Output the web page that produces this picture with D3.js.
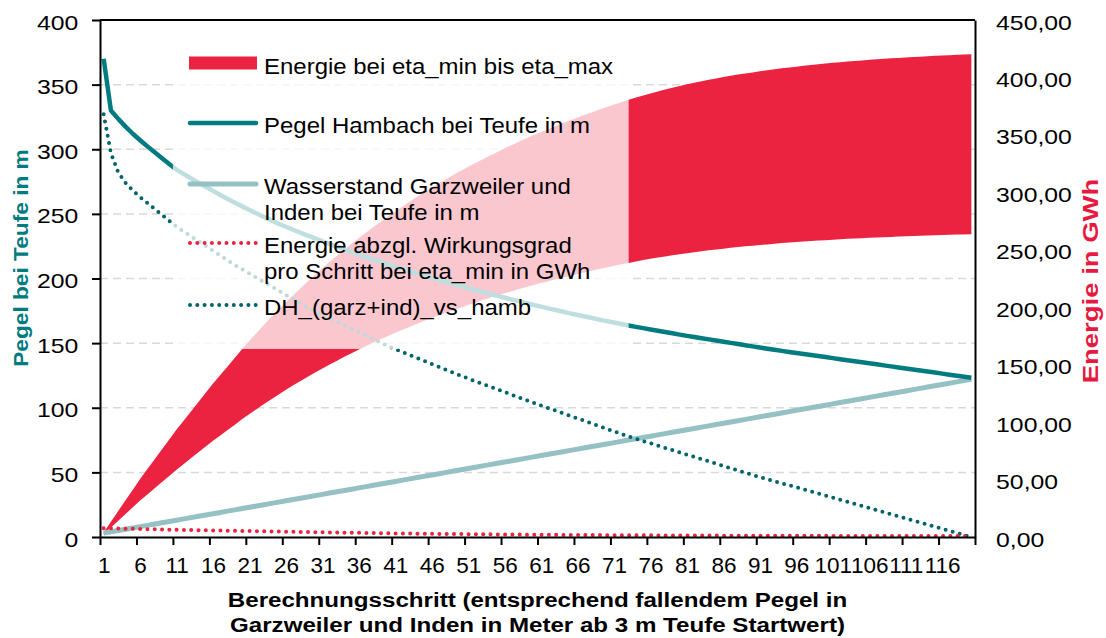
<!DOCTYPE html>
<html>
<head>
<meta charset="utf-8">
<script src="https://cdn.jsdelivr.net/npm/d3@7"></script>
<style>
  body { margin: 0; background: #fff; }
  svg { display: block; font-family: "Liberation Sans", Arial, sans-serif; }
</style>
</head>
<body>
<div id="chart"></div>
<script>
const steps = d3.range(1, 121);

const pegelHambach = [
  370, 330, 323.5, 317.5, 312, 307, 302.2, 297.6, 293, 288.5,
  284.2, 280.8, 277.5, 274.2, 271, 267.8, 264.6, 261.5, 258.6, 255.8,
  253, 250.3, 247.6, 245, 242.4, 240, 237.7, 235.4, 233.2, 231,
  228.8, 226.7, 224.6, 222.5, 220.5, 218.5, 216.6, 214.7, 212.8, 211,
  209.2, 207.4, 205.6, 203.9, 202.2, 200.5, 198.9, 197.3, 195.7, 194.1,
  192.5, 191, 189.5, 188, 186.5, 185.1, 183.7, 182.3, 180.9, 179.5,
  178.2, 176.9, 175.6, 174.3, 173, 171.8, 170.6, 169.4, 168.2, 167,
  165.9, 164.8, 163.7, 162.6, 161.6, 160.6, 159.6, 158.6, 157.6, 156.6,
  155.6, 154.7, 153.8, 152.9, 152, 151.1, 150.2, 149.3, 148.4, 147.5,
  146.6, 145.7, 144.8, 144, 143.2, 142.4, 141.6, 140.8, 140, 139.2,
  138.4, 137.6, 136.8, 136, 135.2, 134.4, 133.6, 132.8, 132, 131.2,
  130.4, 129.6, 128.8, 128, 127.2, 126.4, 125.6, 124.8, 124, 123.2
];

const wasserstand = [
  3, 4, 5, 6, 7, 8, 9, 10, 11, 12,
  13, 14, 15, 16, 17, 18, 19, 20, 21, 22,
  23, 24, 25, 26, 27, 28, 29, 30, 31, 32,
  33, 34, 35, 36, 37, 38, 39, 40, 41, 42,
  43, 44, 45, 46, 47, 48, 49, 50, 51, 52,
  53, 54, 55, 56, 57, 58, 59, 60, 61, 62,
  63, 64, 65, 66, 67, 68, 69, 70, 71, 72,
  73, 74, 75, 76, 77, 78, 79, 80, 81, 82,
  83, 84, 85, 86, 87, 88, 89, 90, 91, 92,
  93, 94, 95, 96, 97, 98, 99, 100, 101, 102,
  103, 104, 105, 106, 107, 108, 109, 110, 111, 112,
  113, 114, 115, 116, 117, 118, 119, 120, 121, 122
];

const dhGarzIndVsHamb = [
  327, 297, 282, 274, 268, 263, 258.4, 253.8, 249.2, 244.6,
  240, 236.3, 232.6, 228.9, 225.2, 221.5, 217.8, 214.1, 210.4, 207.1,
  203.8, 200.5, 197.2, 193.9, 190.6, 187.3, 184, 180.7, 177.4, 174.7,
  172, 169.3, 166.6, 163.9, 161.2, 158.5, 155.8, 153.1, 150.4, 147.7,
  145.4, 143.1, 140.8, 138.5, 136.2, 133.9, 131.6, 129.3, 127, 124.7,
  122.6, 120.5, 118.4, 116.3, 114.2, 112.1, 110, 107.9, 105.8, 103.7,
  101.7, 99.7, 97.7, 95.7, 93.7, 91.7, 89.7, 87.7, 85.7, 83.7,
  81.7, 79.7, 77.7, 76, 74.2, 72.5, 70.7, 69, 67.2, 65.5,
  63.7, 62, 60.2, 58.5, 56.7, 55, 53.2, 51.5, 49.7, 48,
  46.4, 44.8, 43.2, 41.6, 40, 38.4, 36.8, 35.2, 33.6, 32,
  30.4, 28.8, 27.2, 25.6, 24, 22.4, 20.8, 19.2, 17.6, 16,
  14.4, 12.8, 11.2, 9.6, 8, 6.4, 4.8, 3.2, 1.6, 0
];

// GWh, right axis
const energieEtaMax = [
  4, 13.3, 22.6, 31.9, 41.2, 50.5, 59.1, 67.7, 76.3, 84.9,
  93.5, 101.5, 109.5, 117.5, 125.5, 133.5, 141, 148.5, 156, 163.6,
  170.8, 177.8, 184.7, 191.4, 197.9, 204.3, 210.5, 216.6, 222.5, 228.3,
  233.9, 239.5, 244.8, 250.1, 255.2, 260.2, 265.1, 269.8, 274.5, 279,
  283.4, 287.7, 292, 296.1, 300.1, 304, 307.8, 311.5, 315.2, 318.7,
  322.2, 325.6, 328.9, 332.1, 335.2, 338.3, 341.3, 344.2, 347.1, 349.9,
  352.6, 355.2, 357.8, 360.3, 362.8, 365.2, 367.5, 369.8, 372.1, 374.2,
  376.4, 378.4, 380.5, 382.5, 384.3, 386.1, 387.8, 389.5, 391, 392.5,
  394, 395.4, 396.7, 397.9, 399.1, 400.3, 401.4, 402.5, 403.5, 404.4,
  405.4, 406.3, 407.1, 407.9, 408.7, 409.4, 410.1, 410.8, 411.5, 412.1,
  412.7, 413.3, 413.8, 414.3, 414.8, 415.3, 415.8, 416.2, 416.6, 417,
  417.4, 417.8, 418.1, 418.5, 418.8, 419.1, 419.4, 419.7, 419.9, 420.2
];

const energieEtaMin = [
  2.5, 8.3, 14.2, 20, 25.8, 31.7, 37.1, 42.4, 47.8, 53.2,
  58.6, 63.6, 68.7, 73.7, 78.7, 83.7, 88.4, 93.1, 97.8, 102.6,
  107.1, 111.5, 115.8, 120, 124.1, 128.1, 132, 135.8, 139.5, 143.1,
  146.7, 150.2, 153.5, 156.8, 160, 163.1, 166.2, 169.2, 172.1, 174.9,
  177.7, 180.4, 183.1, 185.7, 188.2, 190.6, 193, 195.3, 197.6, 199.8,
  202, 204.2, 206.2, 208.2, 210.2, 212.1, 214, 215.8, 217.6, 219.4,
  221.1, 222.7, 224.3, 225.9, 227.5, 229, 230.4, 231.9, 233.3, 234.6,
  236, 237.3, 238.6, 239.8, 241, 242.1, 243.2, 244.2, 245.2, 246.1,
  247, 247.9, 248.7, 249.5, 250.2, 251, 251.7, 252.4, 253, 253.6,
  254.2, 254.7, 255.3, 255.8, 256.3, 256.7, 257.1, 257.6, 258, 258.4,
  258.8, 259.1, 259.5, 259.8, 260.1, 260.4, 260.7, 261, 261.2, 261.5,
  261.7, 262, 262.2, 262.4, 262.6, 262.8, 263, 263.2, 263.3, 263.5
];

const energieProSchritt = [
  6.8, 6.7, 6.6, 6.4, 6.3, 6.1, 6, 5.9, 5.8, 5.7,
  5.6, 5.5, 5.4, 5.3, 5.2, 5.1, 5, 4.9, 4.8, 4.7,
  4.6, 4.5, 4.4, 4.3, 4.2, 4.1, 4, 3.9, 3.8, 3.7,
  3.6, 3.5, 3.4, 3.3, 3.3, 3.2, 3.1, 3, 3, 2.9,
  2.8, 2.8, 2.7, 2.6, 2.6, 2.5, 2.4, 2.4, 2.3, 2.3,
  2.2, 2.2, 2.1, 2.1, 2, 2, 1.9, 1.9, 1.8, 1.8,
  1.8, 1.7, 1.7, 1.6, 1.6, 1.6, 1.5, 1.5, 1.5, 1.4,
  1.4, 1.4, 1.3, 1.3, 1.3, 1.3, 1.2, 1.2, 1.2, 1.2,
  1.1, 1.1, 1.1, 1.1, 1.1, 1, 1, 1, 1, 1,
  1, 0.9, 0.9, 0.9, 0.9, 0.9, 0.9, 0.9, 0.9, 0.9,
  0.8, 0.8, 0.8, 0.8, 0.8, 0.8, 0.8, 0.8, 0.8, 0.8,
  0.8, 0.8, 0.8, 0.7, 0.7, 0.7, 0.7, 0.7, 0.7, 0.7
];

const xTickLabels = [1, 6, 11, 16, 21, 26, 31, 36, 41, 46, 51, 56, 61, 66, 71, 76, 81, 86, 91, 96, 101, 106, 111, 116];
const leftTicks = [0, 50, 100, 150, 200, 250, 300, 350, 400];
const rightTicks = [0, 50, 100, 150, 200, 250, 300, 350, 400, 450];
const gridValues = [50, 100, 150, 200, 250, 300, 350];

// faded (highlight) band: step range and upper left-axis value
const fadeSteps = [10.5, 73];
const fadeLevel = 145.5;

const legendLabels = [
  ["Energie bei eta_min bis eta_max"],
  ["Pegel Hambach bei Teufe in m"],
  ["Wasserstand Garzweiler und", "Inden bei Teufe in m"],
  ["Energie abzgl. Wirkungsgrad", "pro Schritt bei eta_min in GWh"],
  ["DH_(garz+ind)_vs_hamb"]
];

const xTitle = [
  "Berechnungsschritt (entsprechend fallendem Pegel in",
  "Garzweiler und Inden in Meter ab 3 m Teufe Startwert)"
];

const red = "#ec2340";
const teal = "#007b80";
const tealDark = "#00646b";
const lightTeal = "#95c0c4";

const width = 1106;
const height = 638;
const plotLeft = 100, plotRight = 975, plotTop = 20, plotBottom = 537;

const rows = steps.map((s, i) => ({
  s,
  h: pegelHambach[i],
  w: wasserstand[i],
  dh: dhGarzIndVsHamb[i],
  emax: energieEtaMax[i],
  emin: energieEtaMin[i],
  ep: energieProSchritt[i]
}));

const x = d3.scaleLinear().domain([0.5, 120.5]).range([plotLeft, plotRight]);
const yL = d3.scaleLinear().domain([0, 400]).range([plotBottom, plotTop]);
const yR = d3.scaleLinear().domain([0, 450]).range([plotBottom, plotTop]);

const svg = d3
  .select("#chart")
  .append("svg")
  .attr("width", width)
  .attr("height", height);

svg
  .append("g")
  .selectAll("line")
  .data(gridValues)
  .join("line")
  .attr("x1", plotLeft)
  .attr("x2", plotRight)
  .attr("y1", (d) => yL(d))
  .attr("y2", (d) => yL(d))
  .attr("stroke", "#d9d9d9")
  .attr("stroke-width", 1.5)
  .attr("stroke-dasharray", "8,5");

const area = d3
  .area()
  .x((d) => x(d.s))
  .y0((d) => yR(d.emin))
  .y1((d) => yR(d.emax));

svg.append("path").datum(rows).attr("d", area).attr("fill", red);

const lineOf = (key, scale) =>
  d3.line().x((d) => x(d.s)).y((d) => scale(d[key]));

svg
  .append("path")
  .datum(rows)
  .attr("d", lineOf("w", yL))
  .attr("fill", "none")
  .attr("stroke", lightTeal)
  .attr("stroke-width", 5);

svg
  .append("path")
  .datum(rows)
  .attr("d", lineOf("h", yL))
  .attr("fill", "none")
  .attr("stroke", teal)
  .attr("stroke-width", 4.5)
  .attr("stroke-linejoin", "round");

svg
  .append("path")
  .datum(rows)
  .attr("d", lineOf("dh", yL))
  .attr("fill", "none")
  .attr("stroke", tealDark)
  .attr("stroke-width", 4)
  .attr("stroke-linecap", "round")
  .attr("stroke-dasharray", "0,7.3");

svg
  .append("path")
  .datum(rows)
  .attr("d", lineOf("ep", yL))
  .attr("fill", "none")
  .attr("stroke", red)
  .attr("stroke-width", 4)
  .attr("stroke-linecap", "round")
  .attr("stroke-dasharray", "0,7.3");

// white veil over the middle section
svg
  .append("rect")
  .attr("x", x(fadeSteps[0]))
  .attr("y", yL(400))
  .attr("width", x(fadeSteps[1]) - x(fadeSteps[0]))
  .attr("height", yL(fadeLevel) - yL(400))
  .attr("fill", "#fff")
  .attr("fill-opacity", 0.75);

// axes
const styleAxis = (g) => {
  g.attr("font-size", null).attr("font-family", null);
  g.select(".domain").attr("stroke", "#000").attr("stroke-width", 2);
  g.selectAll(".tick line").attr("stroke", "#000").attr("stroke-width", 2);
  g.selectAll(".tick text").attr("fill", "#000");
};

svg
  .append("g")
  .attr("transform", `translate(${plotLeft},0)`)
  .call(d3.axisLeft(yL).tickValues(leftTicks).tickSize(8).tickSizeOuter(0))
  .call(styleAxis)
  .call((g) =>
    g
      .selectAll(".tick text")
      .attr("font-size", 20)
      .attr("x", -17.5)
      .attr("dy", "0.45em")
      .attr("transform", "scale(1.24,1)")
  );

svg
  .append("g")
  .attr("transform", `translate(${plotRight},0)`)
  .call(
    d3
      .axisRight(yR)
      .tickValues(rightTicks)
      .tickSize(0)
      .tickFormat((d) => d3.format(".2f")(d).replace(".", ","))
  )
  .call(styleAxis)
  .call((g) =>
    g
      .selectAll(".tick text")
      .attr("font-size", 20)
      .attr("x", 17)
      .attr("dy", "0.45em")
      .attr("transform", "scale(1.24,1)")
  );

const boundaries = xTickLabels.map((d) => d - 0.5).concat([120.5]);

svg
  .append("g")
  .attr("transform", `translate(0,${plotBottom})`)
  .call(d3.axisBottom(x).tickValues(boundaries).tickSize(8).tickSizeOuter(0).tickFormat(""))
  .call(styleAxis);

svg
  .append("g")
  .attr("transform", `translate(0,${plotBottom})`)
  .call(d3.axisBottom(x).tickValues(xTickLabels).tickSize(0).tickPadding(20))
  .call(styleAxis)
  .call((g) => g.select(".domain").remove())
  .call((g) => g.selectAll(".tick text").attr("font-size", 22.5));

// top frame line
svg
  .append("line")
  .attr("x1", plotLeft)
  .attr("x2", plotRight)
  .attr("y1", yL(400))
  .attr("y2", yL(400))
  .attr("stroke", "#000")
  .attr("stroke-width", 2);

// axis titles
svg
  .append("text")
  .attr("transform", `translate(${(plotLeft + plotRight) / 2},0) scale(1.15,1)`)
  .attr("text-anchor", "middle")
  .attr("font-weight", "bold")
  .attr("font-size", 21)
  .selectAll("tspan")
  .data(xTitle)
  .join("tspan")
  .attr("x", 0)
  .attr("y", (d, i) => 607 + i * 25)
  .text((d) => d);

svg
  .append("text")
  .attr("transform", "translate(28,258) rotate(-90) scale(1.08,1)")
  .attr("text-anchor", "middle")
  .attr("font-weight", "bold")
  .attr("font-size", 21)
  .attr("fill", teal)
  .text("Pegel bei Teufe in m");

svg
  .append("text")
  .attr("transform", "translate(1098,281) rotate(-90) scale(1.25,1)")
  .attr("text-anchor", "middle")
  .attr("font-weight", "bold")
  .attr("font-size", 22)
  .attr("fill", "#e8193f")
  .text("Energie in GWh");

// legend
const legendY = [63, 123, 184, 243, 305];
const legend = svg.append("g");

legend
  .append("rect")
  .attr("x", 189)
  .attr("y", legendY[0] - 6.5)
  .attr("width", 68)
  .attr("height", 13)
  .attr("fill", red);

legend
  .append("line")
  .attr("x1", 190).attr("x2", 256)
  .attr("y1", legendY[1]).attr("y2", legendY[1])
  .attr("stroke", teal)
  .attr("stroke-width", 4.5)
  .attr("stroke-linecap", "round");

legend
  .append("line")
  .attr("x1", 190).attr("x2", 256)
  .attr("y1", legendY[2]).attr("y2", legendY[2])
  .attr("stroke", lightTeal)
  .attr("stroke-width", 5)
  .attr("stroke-linecap", "round");

[[3, red], [4, tealDark]].forEach(([i, c]) => {
  legend
    .append("line")
    .attr("x1", 190).attr("x2", 256)
    .attr("y1", legendY[i]).attr("y2", legendY[i])
    .attr("stroke", c)
    .attr("stroke-width", 4)
    .attr("stroke-linecap", "round")
    .attr("stroke-dasharray", "0,7.3");
});

legend
  .selectAll("text")
  .data(legendLabels)
  .join("text")
  .attr("transform", "translate(264,0) scale(1.09,1)")
  .attr("font-size", 22)
  .attr("fill", "#000")
  .each(function (lines, i) {
    d3.select(this)
      .selectAll("tspan")
      .data(lines)
      .join("tspan")
      .attr("x", 0)
      .attr("y", (d, j) => legendY[i] + (i === 0 ? 11 : 10) + j * 26)
      .text((d) => d);
  });
</script>
</body>
</html>
